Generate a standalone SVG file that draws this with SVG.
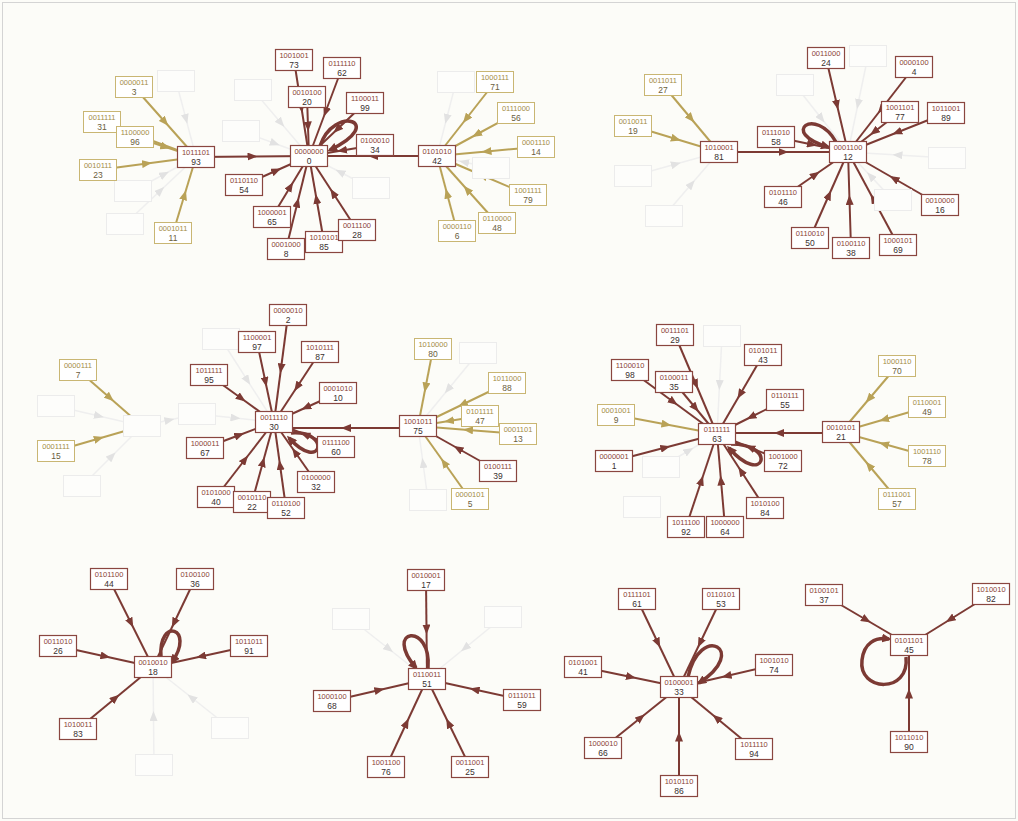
<svg xmlns="http://www.w3.org/2000/svg" width="1018" height="821" viewBox="0 0 1018 821">
<style>
.m rect{fill:#fff;stroke:#8a4640;stroke-width:1.2}
.o rect{fill:#fff;stroke:#c9b673;stroke-width:1}
.f rect{fill:#fdfdfb;stroke:#ececec;stroke-width:1}
text{font-family:"Liberation Sans",Arial,sans-serif;text-anchor:middle}
.b{font-size:7.5px}
.d{font-size:8.5px}
.m .b{fill:#8a3f35}
.m .d{fill:#3a3030}
.o .b{fill:#a38c45}
.o .d{fill:#6a6040}
.em{fill:none;stroke:#7c3a34;stroke-width:2;marker-mid:url(#am)}
.eo{fill:none;stroke:#b9a257;stroke-width:2;marker-mid:url(#ao)}
.ef{fill:none;stroke:#efefef;stroke-width:1.5;marker-mid:url(#af)}
.lp{fill:none;stroke:#7c3a34;stroke-width:3.5;marker-end:url(#al)}
</style>
<defs>
<marker id="am" markerUnits="userSpaceOnUse" markerWidth="10" markerHeight="8" refX="5" refY="4" orient="auto"><path d="M0,0 L10,4 L0,8 z" fill="#7c3a34"/></marker>
<marker id="ao" markerUnits="userSpaceOnUse" markerWidth="10" markerHeight="8" refX="5" refY="4" orient="auto"><path d="M0,0 L10,4 L0,8 z" fill="#b9a257"/></marker>
<marker id="af" markerUnits="userSpaceOnUse" markerWidth="10" markerHeight="8" refX="5" refY="4" orient="auto"><path d="M0,0 L10,4 L0,8 z" fill="#e2e2e2"/></marker>
<marker id="al" markerUnits="userSpaceOnUse" markerWidth="10" markerHeight="9" refX="7" refY="4.5" orient="auto"><path d="M0,0 L10,4.5 L0,9 z" fill="#7c3a34"/></marker>
</defs>
<rect x="0" y="0" width="1018" height="821" fill="#fcfcf8"/>
<rect x="2.5" y="2.5" width="1013" height="816" fill="none" stroke="#d4d4d4" stroke-width="1"/>
<g id="connectors">
<path class="ef" d="M176 81 L186 119 L196 157"/>
<path class="ef" d="M133 191 L164.5 174 L196 157"/>
<path class="ef" d="M125 224 L160.5 190.5 L196 157"/>
<path class="ef" d="M253 90 L281 123 L309 156"/>
<path class="ef" d="M241 131 L275 143.5 L309 156"/>
<path class="ef" d="M371 188 L340 172 L309 156"/>
<path class="ef" d="M456 82 L446.5 119 L437 156"/>
<path class="ef" d="M491 168 L464 162 L437 156"/>
<path class="ef" d="M633 176 L676 164 L719 152"/>
<path class="ef" d="M664 216 L691.5 184 L719 152"/>
<path class="ef" d="M795 85 L821.5 118.5 L848 152"/>
<path class="ef" d="M868 56 L858 104 L848 152"/>
<path class="ef" d="M947 158 L897.5 155 L848 152"/>
<path class="ef" d="M893 200 L870.5 176 L848 152"/>
<path class="ef" d="M56 406 L99 416 L142 426"/>
<path class="ef" d="M82 486 L112 456 L142 426"/>
<path class="ef" d="M142 426 L169.5 420 L197 414"/>
<path class="ef" d="M197 414 L235.5 418 L274 422"/>
<path class="ef" d="M221 339 L247.5 380.5 L274 422"/>
<path class="ef" d="M478 353 L448 389.5 L418 426"/>
<path class="ef" d="M428 500 L423 463 L418 426"/>
<path class="ef" d="M722 336 L719.5 385 L717 434"/>
<path class="ef" d="M661 467 L689 450.5 L717 434"/>
<path class="ef" d="M230 728 L191.5 697.5 L153 667"/>
<path class="ef" d="M154 765 L153.5 716 L153 667"/>
<path class="ef" d="M351 619 L389 649 L427 679"/>
<path class="ef" d="M503 617 L465 648 L427 679"/>
<path class="eo" d="M134 87 L165 122 L196 157"/>
<path class="eo" d="M102 122 L149 139.5 L196 157"/>
<path class="eo" d="M135 137 L165.5 147 L196 157"/>
<path class="eo" d="M98 170 L147 163.5 L196 157"/>
<path class="eo" d="M173 233 L184.5 195 L196 157"/>
<path class="eo" d="M495 82 L466 119 L437 156"/>
<path class="eo" d="M516 113 L476.5 134.5 L437 156"/>
<path class="eo" d="M536 147 L486.5 151.5 L437 156"/>
<path class="eo" d="M528 195 L482.5 175.5 L437 156"/>
<path class="eo" d="M497 223 L467 189.5 L437 156"/>
<path class="eo" d="M457 231 L447 193.5 L437 156"/>
<path class="eo" d="M663 85 L691 118.5 L719 152"/>
<path class="eo" d="M633 126 L676 139 L719 152"/>
<path class="eo" d="M78 370 L110 398 L142 426"/>
<path class="eo" d="M56 451 L99 438.5 L142 426"/>
<path class="eo" d="M433 349 L425.5 387.5 L418 426"/>
<path class="eo" d="M507 383 L462.5 404.5 L418 426"/>
<path class="eo" d="M480 416 L449 421 L418 426"/>
<path class="eo" d="M518 434 L468 430 L418 426"/>
<path class="eo" d="M470 499 L444 462.5 L418 426"/>
<path class="eo" d="M616 415 L666.5 424.5 L717 434"/>
<path class="eo" d="M897 366 L869 399 L841 432"/>
<path class="eo" d="M927 407 L884 419.5 L841 432"/>
<path class="eo" d="M927 456 L884 444 L841 432"/>
<path class="eo" d="M897 499 L869 465.5 L841 432"/>
<path class="em" d="M196 157 L252.5 156.5 L309 156"/>
<path class="em" d="M437 156 L373 156 L309 156"/>
<path class="em" d="M294 60 L301.5 108 L309 156"/>
<path class="em" d="M342 68 L325.5 112 L309 156"/>
<path class="em" d="M307 97 L308 126.5 L309 156"/>
<path class="em" d="M365 103 L337 129.5 L309 156"/>
<path class="em" d="M375 145 L342 150.5 L309 156"/>
<path class="em" d="M244 185 L276.5 170.5 L309 156"/>
<path class="em" d="M272 217 L290.5 186.5 L309 156"/>
<path class="em" d="M286 249 L297.5 202.5 L309 156"/>
<path class="em" d="M324 242 L316.5 199 L309 156"/>
<path class="em" d="M357 230 L333 193 L309 156"/>
<path class="em" d="M719 152 L783.5 152 L848 152"/>
<path class="em" d="M826 58 L837 105 L848 152"/>
<path class="em" d="M914 67 L881 109.5 L848 152"/>
<path class="em" d="M900 112 L874 132 L848 152"/>
<path class="em" d="M946 113 L897 132.5 L848 152"/>
<path class="em" d="M776 137 L812 144.5 L848 152"/>
<path class="em" d="M783 197 L815.5 174.5 L848 152"/>
<path class="em" d="M810 238 L829 195 L848 152"/>
<path class="em" d="M851 248 L849.5 200 L848 152"/>
<path class="em" d="M898 245 L873 198.5 L848 152"/>
<path class="em" d="M940 205 L894 178.5 L848 152"/>
<path class="em" d="M288 315 L281 368.5 L274 422"/>
<path class="em" d="M257 342 L265.5 382 L274 422"/>
<path class="em" d="M320 352 L297 387 L274 422"/>
<path class="em" d="M209 375 L241.5 398.5 L274 422"/>
<path class="em" d="M338 393 L306 407.5 L274 422"/>
<path class="em" d="M336 447 L305 434.5 L274 422"/>
<path class="em" d="M205 448 L239.5 435 L274 422"/>
<path class="em" d="M316 482 L295 452 L274 422"/>
<path class="em" d="M216 497 L245 459.5 L274 422"/>
<path class="em" d="M252 502 L263 462 L274 422"/>
<path class="em" d="M286 508 L280 465 L274 422"/>
<path class="em" d="M418 428 L346 428 L274 428"/>
<path class="em" d="M498 471 L458 448.5 L418 426"/>
<path class="em" d="M675 335 L696 384.5 L717 434"/>
<path class="em" d="M763 355 L740 394.5 L717 434"/>
<path class="em" d="M630 370 L673.5 402 L717 434"/>
<path class="em" d="M674 382 L695.5 408 L717 434"/>
<path class="em" d="M785 400 L751 417 L717 434"/>
<path class="em" d="M614 461 L665.5 447.5 L717 434"/>
<path class="em" d="M783 461 L750 447.5 L717 434"/>
<path class="em" d="M765 508 L741 471 L717 434"/>
<path class="em" d="M686 527 L701.5 480.5 L717 434"/>
<path class="em" d="M725 527 L721 480.5 L717 434"/>
<path class="em" d="M841 433 L779 433 L717 433"/>
<path class="em" d="M109 579 L131 623 L153 667"/>
<path class="em" d="M195 579 L174 623 L153 667"/>
<path class="em" d="M58 646 L105.5 656.5 L153 667"/>
<path class="em" d="M249 646 L201 656.5 L153 667"/>
<path class="em" d="M78 729 L115.5 698 L153 667"/>
<path class="em" d="M426 580 L426.5 629.5 L427 679"/>
<path class="em" d="M332 701 L379.5 690 L427 679"/>
<path class="em" d="M522 700 L474.5 689.5 L427 679"/>
<path class="em" d="M386 767 L406.5 723 L427 679"/>
<path class="em" d="M470 767 L448.5 723 L427 679"/>
<path class="em" d="M637 599 L658 643 L679 687"/>
<path class="em" d="M721 599 L700 643 L679 687"/>
<path class="em" d="M583 667 L631 677 L679 687"/>
<path class="em" d="M774 665 L726.5 676 L679 687"/>
<path class="em" d="M603 748 L641 717.5 L679 687"/>
<path class="em" d="M754 749 L716.5 718 L679 687"/>
<path class="em" d="M679 786 L679 736.5 L679 687"/>
<path class="em" d="M824 595 L866.5 620 L909 645"/>
<path class="em" d="M991 594 L950 619.5 L909 645"/>
<path class="em" d="M909 742 L909 693.5 L909 645"/>
<path class="lp" d="M320 146 C334 104 388 122 330 150"/>
<path class="lp" d="M836 142 C816 106 778 132 828 147"/>
<path class="lp" d="M291 433 C332 430 322 474 289 438"/>
<path class="lp" d="M731 444 C778 444 764 488 729 448"/>
<path class="lp" d="M161 657 C158 616 196 628 172 662"/>
<path class="lp" d="M428 668 C432 622 382 628 416 668"/>
<path class="lp" d="M688 677 C700 622 750 650 699 683"/>
<path class="lp" d="M906 657 C910 694 858 692 862 660 C864 643 875 637 889 639"/>
</g>
<g id="faint-nodes" class="f">
<g id="f1" transform="translate(176,81)"><rect x="-18.5" y="-10.5" width="37" height="21"/></g>
<g id="f2" transform="translate(253,90)"><rect x="-18.5" y="-10.5" width="37" height="21"/></g>
<g id="f3" transform="translate(241,131)"><rect x="-18.5" y="-10.5" width="37" height="21"/></g>
<g id="f4" transform="translate(133,191)"><rect x="-18.5" y="-10.5" width="37" height="21"/></g>
<g id="f5" transform="translate(125,224)"><rect x="-18.5" y="-10.5" width="37" height="21"/></g>
<g id="f6" transform="translate(371,188)"><rect x="-18.5" y="-10.5" width="37" height="21"/></g>
<g id="f7" transform="translate(456,82)"><rect x="-18.5" y="-10.5" width="37" height="21"/></g>
<g id="f8" transform="translate(491,168)"><rect x="-18.5" y="-10.5" width="37" height="21"/></g>
<g id="f9" transform="translate(633,176)"><rect x="-18.5" y="-10.5" width="37" height="21"/></g>
<g id="f10" transform="translate(664,216)"><rect x="-18.5" y="-10.5" width="37" height="21"/></g>
<g id="f11" transform="translate(795,85)"><rect x="-18.5" y="-10.5" width="37" height="21"/></g>
<g id="f12" transform="translate(868,56)"><rect x="-18.5" y="-10.5" width="37" height="21"/></g>
<g id="f13" transform="translate(947,158)"><rect x="-18.5" y="-10.5" width="37" height="21"/></g>
<g id="f14" transform="translate(893,200)"><rect x="-18.5" y="-10.5" width="37" height="21"/></g>
<g id="f15" transform="translate(142,426)"><rect x="-18.5" y="-10.5" width="37" height="21"/></g>
<g id="f16" transform="translate(56,406)"><rect x="-18.5" y="-10.5" width="37" height="21"/></g>
<g id="f17" transform="translate(197,414)"><rect x="-18.5" y="-10.5" width="37" height="21"/></g>
<g id="f18" transform="translate(82,486)"><rect x="-18.5" y="-10.5" width="37" height="21"/></g>
<g id="f19" transform="translate(221,339)"><rect x="-18.5" y="-10.5" width="37" height="21"/></g>
<g id="f20" transform="translate(478,353)"><rect x="-18.5" y="-10.5" width="37" height="21"/></g>
<g id="f21" transform="translate(428,500)"><rect x="-18.5" y="-10.5" width="37" height="21"/></g>
<g id="f22" transform="translate(722,336)"><rect x="-18.5" y="-10.5" width="37" height="21"/></g>
<g id="f23" transform="translate(661,467)"><rect x="-18.5" y="-10.5" width="37" height="21"/></g>
<g id="f24" transform="translate(642,507)"><rect x="-18.5" y="-10.5" width="37" height="21"/></g>
<g id="f25" transform="translate(230,728)"><rect x="-18.5" y="-10.5" width="37" height="21"/></g>
<g id="f26" transform="translate(154,765)"><rect x="-18.5" y="-10.5" width="37" height="21"/></g>
<g id="f27" transform="translate(351,619)"><rect x="-18.5" y="-10.5" width="37" height="21"/></g>
<g id="f28" transform="translate(503,617)"><rect x="-18.5" y="-10.5" width="37" height="21"/></g>
</g>
<g id="n3" class="o" transform="translate(134,87)"><rect x="-18.5" y="-10.5" width="37" height="21"/><text class="b" y="-2">0000011</text><text class="d" y="8">3</text></g>
<g id="n31" class="o" transform="translate(102,122)"><rect x="-18.5" y="-10.5" width="37" height="21"/><text class="b" y="-2">0011111</text><text class="d" y="8">31</text></g>
<g id="n96" class="o" transform="translate(135,137)"><rect x="-18.5" y="-10.5" width="37" height="21"/><text class="b" y="-2">1100000</text><text class="d" y="8">96</text></g>
<g id="n23" class="o" transform="translate(98,170)"><rect x="-18.5" y="-10.5" width="37" height="21"/><text class="b" y="-2">0010111</text><text class="d" y="8">23</text></g>
<g id="n11" class="o" transform="translate(173,233)"><rect x="-18.5" y="-10.5" width="37" height="21"/><text class="b" y="-2">0001011</text><text class="d" y="8">11</text></g>
<g id="n71" class="o" transform="translate(495,82)"><rect x="-18.5" y="-10.5" width="37" height="21"/><text class="b" y="-2">1000111</text><text class="d" y="8">71</text></g>
<g id="n56" class="o" transform="translate(516,113)"><rect x="-18.5" y="-10.5" width="37" height="21"/><text class="b" y="-2">0111000</text><text class="d" y="8">56</text></g>
<g id="n14" class="o" transform="translate(536,147)"><rect x="-18.5" y="-10.5" width="37" height="21"/><text class="b" y="-2">0001110</text><text class="d" y="8">14</text></g>
<g id="n79" class="o" transform="translate(528,195)"><rect x="-18.5" y="-10.5" width="37" height="21"/><text class="b" y="-2">1001111</text><text class="d" y="8">79</text></g>
<g id="n48" class="o" transform="translate(497,223)"><rect x="-18.5" y="-10.5" width="37" height="21"/><text class="b" y="-2">0110000</text><text class="d" y="8">48</text></g>
<g id="n6" class="o" transform="translate(457,231)"><rect x="-18.5" y="-10.5" width="37" height="21"/><text class="b" y="-2">0000110</text><text class="d" y="8">6</text></g>
<g id="n27" class="o" transform="translate(663,85)"><rect x="-18.5" y="-10.5" width="37" height="21"/><text class="b" y="-2">0011011</text><text class="d" y="8">27</text></g>
<g id="n19" class="o" transform="translate(633,126)"><rect x="-18.5" y="-10.5" width="37" height="21"/><text class="b" y="-2">0010011</text><text class="d" y="8">19</text></g>
<g id="n7" class="o" transform="translate(78,370)"><rect x="-18.5" y="-10.5" width="37" height="21"/><text class="b" y="-2">0000111</text><text class="d" y="8">7</text></g>
<g id="n15" class="o" transform="translate(56,451)"><rect x="-18.5" y="-10.5" width="37" height="21"/><text class="b" y="-2">0001111</text><text class="d" y="8">15</text></g>
<g id="n80" class="o" transform="translate(433,349)"><rect x="-18.5" y="-10.5" width="37" height="21"/><text class="b" y="-2">1010000</text><text class="d" y="8">80</text></g>
<g id="n88" class="o" transform="translate(507,383)"><rect x="-18.5" y="-10.5" width="37" height="21"/><text class="b" y="-2">1011000</text><text class="d" y="8">88</text></g>
<g id="n47" class="o" transform="translate(480,416)"><rect x="-18.5" y="-10.5" width="37" height="21"/><text class="b" y="-2">0101111</text><text class="d" y="8">47</text></g>
<g id="n13" class="o" transform="translate(518,434)"><rect x="-18.5" y="-10.5" width="37" height="21"/><text class="b" y="-2">0001101</text><text class="d" y="8">13</text></g>
<g id="n5" class="o" transform="translate(470,499)"><rect x="-18.5" y="-10.5" width="37" height="21"/><text class="b" y="-2">0000101</text><text class="d" y="8">5</text></g>
<g id="n9" class="o" transform="translate(616,415)"><rect x="-18.5" y="-10.5" width="37" height="21"/><text class="b" y="-2">0001001</text><text class="d" y="8">9</text></g>
<g id="n70" class="o" transform="translate(897,366)"><rect x="-18.5" y="-10.5" width="37" height="21"/><text class="b" y="-2">1000110</text><text class="d" y="8">70</text></g>
<g id="n49" class="o" transform="translate(927,407)"><rect x="-18.5" y="-10.5" width="37" height="21"/><text class="b" y="-2">0110001</text><text class="d" y="8">49</text></g>
<g id="n78" class="o" transform="translate(927,456)"><rect x="-18.5" y="-10.5" width="37" height="21"/><text class="b" y="-2">1001110</text><text class="d" y="8">78</text></g>
<g id="n57" class="o" transform="translate(897,499)"><rect x="-18.5" y="-10.5" width="37" height="21"/><text class="b" y="-2">0111001</text><text class="d" y="8">57</text></g>
<g id="n0" class="m" transform="translate(309,156)"><rect x="-18.5" y="-10.5" width="37" height="21"/><text class="b" y="-2">0000000</text><text class="d" y="8">0</text></g>
<g id="n93" class="m" transform="translate(196,157)"><rect x="-18.5" y="-10.5" width="37" height="21"/><text class="b" y="-2">1011101</text><text class="d" y="8">93</text></g>
<g id="n42" class="m" transform="translate(437,156)"><rect x="-18.5" y="-10.5" width="37" height="21"/><text class="b" y="-2">0101010</text><text class="d" y="8">42</text></g>
<g id="n73" class="m" transform="translate(294,60)"><rect x="-18.5" y="-10.5" width="37" height="21"/><text class="b" y="-2">1001001</text><text class="d" y="8">73</text></g>
<g id="n62" class="m" transform="translate(342,68)"><rect x="-18.5" y="-10.5" width="37" height="21"/><text class="b" y="-2">0111110</text><text class="d" y="8">62</text></g>
<g id="n20" class="m" transform="translate(307,97)"><rect x="-18.5" y="-10.5" width="37" height="21"/><text class="b" y="-2">0010100</text><text class="d" y="8">20</text></g>
<g id="n99" class="m" transform="translate(365,103)"><rect x="-18.5" y="-10.5" width="37" height="21"/><text class="b" y="-2">1100011</text><text class="d" y="8">99</text></g>
<g id="n34" class="m" transform="translate(375,145)"><rect x="-18.5" y="-10.5" width="37" height="21"/><text class="b" y="-2">0100010</text><text class="d" y="8">34</text></g>
<g id="n54" class="m" transform="translate(244,185)"><rect x="-18.5" y="-10.5" width="37" height="21"/><text class="b" y="-2">0110110</text><text class="d" y="8">54</text></g>
<g id="n65" class="m" transform="translate(272,217)"><rect x="-18.5" y="-10.5" width="37" height="21"/><text class="b" y="-2">1000001</text><text class="d" y="8">65</text></g>
<g id="n8" class="m" transform="translate(286,249)"><rect x="-18.5" y="-10.5" width="37" height="21"/><text class="b" y="-2">0001000</text><text class="d" y="8">8</text></g>
<g id="n85" class="m" transform="translate(324,242)"><rect x="-18.5" y="-10.5" width="37" height="21"/><text class="b" y="-2">1010101</text><text class="d" y="8">85</text></g>
<g id="n28" class="m" transform="translate(357,230)"><rect x="-18.5" y="-10.5" width="37" height="21"/><text class="b" y="-2">0011100</text><text class="d" y="8">28</text></g>
<g id="n81" class="m" transform="translate(719,152)"><rect x="-18.5" y="-10.5" width="37" height="21"/><text class="b" y="-2">1010001</text><text class="d" y="8">81</text></g>
<g id="n12" class="m" transform="translate(848,152)"><rect x="-18.5" y="-10.5" width="37" height="21"/><text class="b" y="-2">0001100</text><text class="d" y="8">12</text></g>
<g id="n24" class="m" transform="translate(826,58)"><rect x="-18.5" y="-10.5" width="37" height="21"/><text class="b" y="-2">0011000</text><text class="d" y="8">24</text></g>
<g id="n4" class="m" transform="translate(914,67)"><rect x="-18.5" y="-10.5" width="37" height="21"/><text class="b" y="-2">0000100</text><text class="d" y="8">4</text></g>
<g id="n77" class="m" transform="translate(900,112)"><rect x="-18.5" y="-10.5" width="37" height="21"/><text class="b" y="-2">1001101</text><text class="d" y="8">77</text></g>
<g id="n89" class="m" transform="translate(946,113)"><rect x="-18.5" y="-10.5" width="37" height="21"/><text class="b" y="-2">1011001</text><text class="d" y="8">89</text></g>
<g id="n58" class="m" transform="translate(776,137)"><rect x="-18.5" y="-10.5" width="37" height="21"/><text class="b" y="-2">0111010</text><text class="d" y="8">58</text></g>
<g id="n46" class="m" transform="translate(783,197)"><rect x="-18.5" y="-10.5" width="37" height="21"/><text class="b" y="-2">0101110</text><text class="d" y="8">46</text></g>
<g id="n50" class="m" transform="translate(810,238)"><rect x="-18.5" y="-10.5" width="37" height="21"/><text class="b" y="-2">0110010</text><text class="d" y="8">50</text></g>
<g id="n38" class="m" transform="translate(851,248)"><rect x="-18.5" y="-10.5" width="37" height="21"/><text class="b" y="-2">0100110</text><text class="d" y="8">38</text></g>
<g id="n69" class="m" transform="translate(898,245)"><rect x="-18.5" y="-10.5" width="37" height="21"/><text class="b" y="-2">1000101</text><text class="d" y="8">69</text></g>
<g id="n16" class="m" transform="translate(940,205)"><rect x="-18.5" y="-10.5" width="37" height="21"/><text class="b" y="-2">0010000</text><text class="d" y="8">16</text></g>
<g id="n30" class="m" transform="translate(274,422)"><rect x="-18.5" y="-10.5" width="37" height="21"/><text class="b" y="-2">0011110</text><text class="d" y="8">30</text></g>
<g id="n2" class="m" transform="translate(288,315)"><rect x="-18.5" y="-10.5" width="37" height="21"/><text class="b" y="-2">0000010</text><text class="d" y="8">2</text></g>
<g id="n97" class="m" transform="translate(257,342)"><rect x="-18.5" y="-10.5" width="37" height="21"/><text class="b" y="-2">1100001</text><text class="d" y="8">97</text></g>
<g id="n87" class="m" transform="translate(320,352)"><rect x="-18.5" y="-10.5" width="37" height="21"/><text class="b" y="-2">1010111</text><text class="d" y="8">87</text></g>
<g id="n95" class="m" transform="translate(209,375)"><rect x="-18.5" y="-10.5" width="37" height="21"/><text class="b" y="-2">1011111</text><text class="d" y="8">95</text></g>
<g id="n10" class="m" transform="translate(338,393)"><rect x="-18.5" y="-10.5" width="37" height="21"/><text class="b" y="-2">0001010</text><text class="d" y="8">10</text></g>
<g id="n60" class="m" transform="translate(336,447)"><rect x="-18.5" y="-10.5" width="37" height="21"/><text class="b" y="-2">0111100</text><text class="d" y="8">60</text></g>
<g id="n67" class="m" transform="translate(205,448)"><rect x="-18.5" y="-10.5" width="37" height="21"/><text class="b" y="-2">1000011</text><text class="d" y="8">67</text></g>
<g id="n32" class="m" transform="translate(316,482)"><rect x="-18.5" y="-10.5" width="37" height="21"/><text class="b" y="-2">0100000</text><text class="d" y="8">32</text></g>
<g id="n40" class="m" transform="translate(216,497)"><rect x="-18.5" y="-10.5" width="37" height="21"/><text class="b" y="-2">0101000</text><text class="d" y="8">40</text></g>
<g id="n22" class="m" transform="translate(252,502)"><rect x="-18.5" y="-10.5" width="37" height="21"/><text class="b" y="-2">0010110</text><text class="d" y="8">22</text></g>
<g id="n52" class="m" transform="translate(286,508)"><rect x="-18.5" y="-10.5" width="37" height="21"/><text class="b" y="-2">0110100</text><text class="d" y="8">52</text></g>
<g id="n75" class="m" transform="translate(418,426)"><rect x="-18.5" y="-10.5" width="37" height="21"/><text class="b" y="-2">1001011</text><text class="d" y="8">75</text></g>
<g id="n39" class="m" transform="translate(498,471)"><rect x="-18.5" y="-10.5" width="37" height="21"/><text class="b" y="-2">0100111</text><text class="d" y="8">39</text></g>
<g id="n63" class="m" transform="translate(717,434)"><rect x="-18.5" y="-10.5" width="37" height="21"/><text class="b" y="-2">0111111</text><text class="d" y="8">63</text></g>
<g id="n29" class="m" transform="translate(675,335)"><rect x="-18.5" y="-10.5" width="37" height="21"/><text class="b" y="-2">0011101</text><text class="d" y="8">29</text></g>
<g id="n43" class="m" transform="translate(763,355)"><rect x="-18.5" y="-10.5" width="37" height="21"/><text class="b" y="-2">0101011</text><text class="d" y="8">43</text></g>
<g id="n98" class="m" transform="translate(630,370)"><rect x="-18.5" y="-10.5" width="37" height="21"/><text class="b" y="-2">1100010</text><text class="d" y="8">98</text></g>
<g id="n35" class="m" transform="translate(674,382)"><rect x="-18.5" y="-10.5" width="37" height="21"/><text class="b" y="-2">0100011</text><text class="d" y="8">35</text></g>
<g id="n55" class="m" transform="translate(785,400)"><rect x="-18.5" y="-10.5" width="37" height="21"/><text class="b" y="-2">0110111</text><text class="d" y="8">55</text></g>
<g id="n1" class="m" transform="translate(614,461)"><rect x="-18.5" y="-10.5" width="37" height="21"/><text class="b" y="-2">0000001</text><text class="d" y="8">1</text></g>
<g id="n72" class="m" transform="translate(783,461)"><rect x="-18.5" y="-10.5" width="37" height="21"/><text class="b" y="-2">1001000</text><text class="d" y="8">72</text></g>
<g id="n84" class="m" transform="translate(765,508)"><rect x="-18.5" y="-10.5" width="37" height="21"/><text class="b" y="-2">1010100</text><text class="d" y="8">84</text></g>
<g id="n92" class="m" transform="translate(686,527)"><rect x="-18.5" y="-10.5" width="37" height="21"/><text class="b" y="-2">1011100</text><text class="d" y="8">92</text></g>
<g id="n64" class="m" transform="translate(725,527)"><rect x="-18.5" y="-10.5" width="37" height="21"/><text class="b" y="-2">1000000</text><text class="d" y="8">64</text></g>
<g id="n21" class="m" transform="translate(841,432)"><rect x="-18.5" y="-10.5" width="37" height="21"/><text class="b" y="-2">0010101</text><text class="d" y="8">21</text></g>
<g id="n18" class="m" transform="translate(153,667)"><rect x="-18.5" y="-10.5" width="37" height="21"/><text class="b" y="-2">0010010</text><text class="d" y="8">18</text></g>
<g id="n44" class="m" transform="translate(109,579)"><rect x="-18.5" y="-10.5" width="37" height="21"/><text class="b" y="-2">0101100</text><text class="d" y="8">44</text></g>
<g id="n36" class="m" transform="translate(195,579)"><rect x="-18.5" y="-10.5" width="37" height="21"/><text class="b" y="-2">0100100</text><text class="d" y="8">36</text></g>
<g id="n26" class="m" transform="translate(58,646)"><rect x="-18.5" y="-10.5" width="37" height="21"/><text class="b" y="-2">0011010</text><text class="d" y="8">26</text></g>
<g id="n91" class="m" transform="translate(249,646)"><rect x="-18.5" y="-10.5" width="37" height="21"/><text class="b" y="-2">1011011</text><text class="d" y="8">91</text></g>
<g id="n83" class="m" transform="translate(78,729)"><rect x="-18.5" y="-10.5" width="37" height="21"/><text class="b" y="-2">1010011</text><text class="d" y="8">83</text></g>
<g id="n51" class="m" transform="translate(427,679)"><rect x="-18.5" y="-10.5" width="37" height="21"/><text class="b" y="-2">0110011</text><text class="d" y="8">51</text></g>
<g id="n17" class="m" transform="translate(426,580)"><rect x="-18.5" y="-10.5" width="37" height="21"/><text class="b" y="-2">0010001</text><text class="d" y="8">17</text></g>
<g id="n68" class="m" transform="translate(332,701)"><rect x="-18.5" y="-10.5" width="37" height="21"/><text class="b" y="-2">1000100</text><text class="d" y="8">68</text></g>
<g id="n59" class="m" transform="translate(522,700)"><rect x="-18.5" y="-10.5" width="37" height="21"/><text class="b" y="-2">0111011</text><text class="d" y="8">59</text></g>
<g id="n76" class="m" transform="translate(386,767)"><rect x="-18.5" y="-10.5" width="37" height="21"/><text class="b" y="-2">1001100</text><text class="d" y="8">76</text></g>
<g id="n25" class="m" transform="translate(470,767)"><rect x="-18.5" y="-10.5" width="37" height="21"/><text class="b" y="-2">0011001</text><text class="d" y="8">25</text></g>
<g id="n33" class="m" transform="translate(679,687)"><rect x="-18.5" y="-10.5" width="37" height="21"/><text class="b" y="-2">0100001</text><text class="d" y="8">33</text></g>
<g id="n61" class="m" transform="translate(637,599)"><rect x="-18.5" y="-10.5" width="37" height="21"/><text class="b" y="-2">0111101</text><text class="d" y="8">61</text></g>
<g id="n53" class="m" transform="translate(721,599)"><rect x="-18.5" y="-10.5" width="37" height="21"/><text class="b" y="-2">0110101</text><text class="d" y="8">53</text></g>
<g id="n41" class="m" transform="translate(583,667)"><rect x="-18.5" y="-10.5" width="37" height="21"/><text class="b" y="-2">0101001</text><text class="d" y="8">41</text></g>
<g id="n74" class="m" transform="translate(774,665)"><rect x="-18.5" y="-10.5" width="37" height="21"/><text class="b" y="-2">1001010</text><text class="d" y="8">74</text></g>
<g id="n66" class="m" transform="translate(603,748)"><rect x="-18.5" y="-10.5" width="37" height="21"/><text class="b" y="-2">1000010</text><text class="d" y="8">66</text></g>
<g id="n94" class="m" transform="translate(754,749)"><rect x="-18.5" y="-10.5" width="37" height="21"/><text class="b" y="-2">1011110</text><text class="d" y="8">94</text></g>
<g id="n86" class="m" transform="translate(679,786)"><rect x="-18.5" y="-10.5" width="37" height="21"/><text class="b" y="-2">1010110</text><text class="d" y="8">86</text></g>
<g id="n45" class="m" transform="translate(909,645)"><rect x="-18.5" y="-10.5" width="37" height="21"/><text class="b" y="-2">0101101</text><text class="d" y="8">45</text></g>
<g id="n37" class="m" transform="translate(824,595)"><rect x="-18.5" y="-10.5" width="37" height="21"/><text class="b" y="-2">0100101</text><text class="d" y="8">37</text></g>
<g id="n82" class="m" transform="translate(991,594)"><rect x="-18.5" y="-10.5" width="37" height="21"/><text class="b" y="-2">1010010</text><text class="d" y="8">82</text></g>
<g id="n90" class="m" transform="translate(909,742)"><rect x="-18.5" y="-10.5" width="37" height="21"/><text class="b" y="-2">1011010</text><text class="d" y="8">90</text></g>
</svg>
